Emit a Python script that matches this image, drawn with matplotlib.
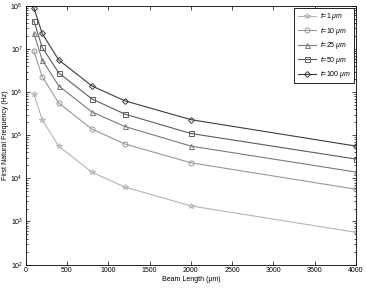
import matplotlib
matplotlib.use("Agg")
import matplotlib.pyplot as plt
from matplotlib.ticker import LogLocator, NullFormatter

plt.rcParams['font.family'] = ['Liberation Sans', 'DejaVu Sans']
plt.rcParams['mathtext.fontset'] = 'custom'
plt.rcParams['mathtext.it'] = 'Liberation Sans:italic'
plt.rcParams['mathtext.rm'] = 'Liberation Sans'

beam_length = [100, 200, 400, 800, 1200, 2000, 4000]
freq_t1 = [9.0e5, 2.3e5, 5.6e4, 1.4e4, 6.3e3, 2.3e3, 5.6e2]
freq_t10 = [9.0e6, 2.3e6, 5.6e5, 1.4e5, 6.3e4, 2.3e4, 5.6e3]
freq_t25 = [2.3e7, 5.6e6, 1.4e6, 3.5e5, 1.6e5, 5.6e4, 1.4e4]
freq_t50 = [4.5e7, 1.1e7, 2.8e6, 7.0e5, 3.1e5, 1.1e5, 2.8e4]
freq_t100 = [9.0e7, 2.3e7, 5.6e6, 1.4e6, 6.3e5, 2.3e5, 5.6e4]
labels = [r'$t$=1 $\mu m$', r'$t$=10 $\mu m$', r'$t$=25 $\mu m$', r'$t$=50 $\mu m$', r'$t$=100 $\mu m$']
xticks = [0, 500, 1000, 1500, 2000, 2500, 3000, 3500, 4000]

series = [freq_t1, freq_t10, freq_t25, freq_t50, freq_t100]
colors = ['#b4b4b4', '#999999', '#7a7a7a', '#5c5c5c', '#3c3c3c']
markers = ['*', 'o', '^', 's', 'D']
msizes = [4.2, 3.6, 3.6, 3.6, 3.0]

fig = plt.figure(figsize=(3.66, 2.95), dpi=100)
ax = fig.add_axes([0.07, 0.103, 0.903, 0.877])
for y, c, m, ms, lab in zip(series, colors, markers, msizes, labels):
    ax.plot(beam_length, y, color=c, marker=m, markersize=ms, markerfacecolor='none',
            markeredgecolor=c, markeredgewidth=0.7, linewidth=0.8, label=lab)

ax.set_yscale('log')
ax.set_xlim(0, 4000)
ax.set_ylim(1e2, 1e8)
ax.set_xticks(xticks)
ax.yaxis.set_major_locator(LogLocator(base=10, numticks=10))
ax.yaxis.set_minor_locator(LogLocator(base=10, subs=range(2, 10), numticks=100))
ax.yaxis.set_minor_formatter(NullFormatter())
ax.tick_params(which='both', direction='in', top=True, right=True, labelsize=5, width=0.5, pad=2)
ax.tick_params(which='major', length=3)
ax.tick_params(which='minor', length=1.5)
for s in ax.spines.values():
    s.set_linewidth(0.6)
ax.set_xlabel('Beam Length (\u03bcm)', fontsize=5, labelpad=1.5)
ax.set_ylabel('First Natural Frequency (Hz)', fontsize=5, labelpad=1)
leg = ax.legend(loc='upper right', fontsize=5, frameon=True, fancybox=False,
                edgecolor='black', framealpha=1, borderpad=0.5, handlelength=2.6,
                labelspacing=0.5, borderaxespad=0.25, handletextpad=0.6)
leg.get_frame().set_linewidth(0.6)
fig.savefig('out.png', dpi=100)
